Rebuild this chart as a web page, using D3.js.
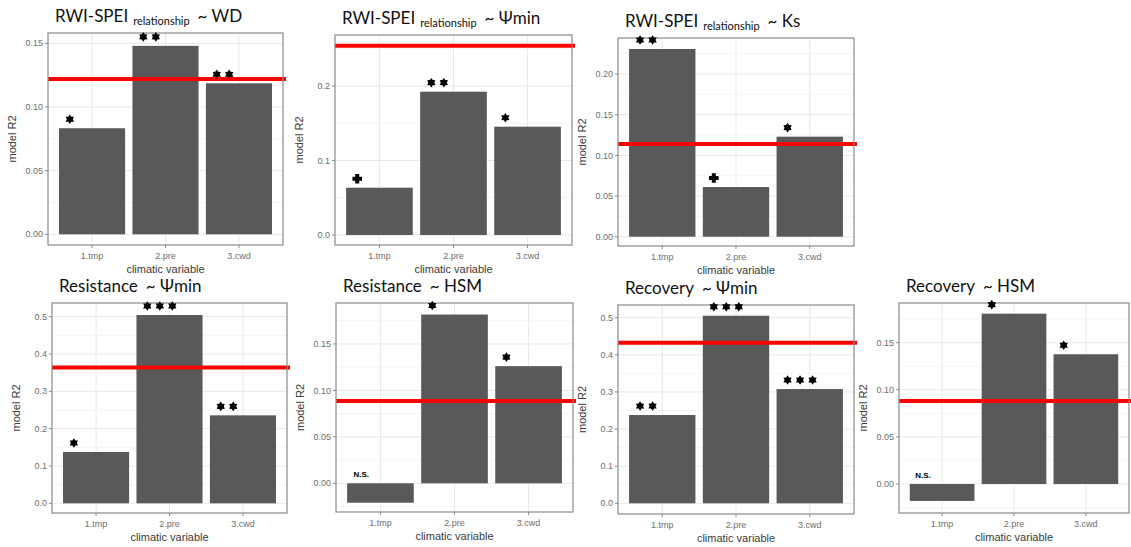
<!DOCTYPE html>
<html>
<head>
<meta charset="utf-8">
<script src="https://cdn.jsdelivr.net/npm/d3@7"></script>
<style>
    body { margin: 0; background: #fff; }
    svg { display: block; }
    .tick-label { font-family: "Liberation Sans", Arial, sans-serif; font-size: 9px; fill: #6e6e6e; }
    .axis-title { font-family: "Liberation Sans", Arial, sans-serif; font-size: 11px; fill: #3a3a3a; }
    .panel-title { font-family: Lato, "Open Sans", sans-serif; font-size: 17px; fill: #111; }
</style>
</head>
<body>
<svg id="chart" width="1131" height="547"></svg>
<script>
// data
var categories = ["1.tmp", "2.pre", "3.cwd"];

var titleMain = ["RWI-SPEI", "RWI-SPEI", "RWI-SPEI", "Resistance", "Resistance", "Recovery", "Recovery"];
var titleSub = ["relationship", "relationship", "relationship", "", "", "", ""];
var titleRest = ["~ WD", "~ \u03A8min", "~ Ks", "~ \u03A8min", "~ HSM", "~ \u03A8min", "~ HSM"];

var r2Values = [
    [0.0833, 0.148, 0.1186],
    [0.0635, 0.1924, 0.1454],
    [0.2308, 0.0611, 0.123],
    [0.1374, 0.5045, 0.2357],
    [-0.0209, 0.1817, 0.1261],
    [0.2378, 0.5053, 0.3078],
    [-0.018, 0.1808, 0.1377]
];

var thresholds = [0.122, 0.254, 0.114, 0.364, 0.0885, 0.4326, 0.0881];

var signif = [
    ["*", "**", "**"],
    ["+", "**", "*"],
    ["**", "+", "*"],
    ["*", "***", "**"],
    ["N.S.", "*", "*"],
    ["**", "***", "***"],
    ["N.S.", "*", "*"]
];

var yTickLabels = [
    ["0.00", "0.05", "0.10", "0.15"],
    ["0.0", "0.1", "0.2"],
    ["0.00", "0.05", "0.10", "0.15", "0.20"],
    ["0.0", "0.1", "0.2", "0.3", "0.4", "0.5"],
    ["0.00", "0.05", "0.10", "0.15"],
    ["0.0", "0.1", "0.2", "0.3", "0.4", "0.5"],
    ["0.00", "0.05", "0.10", "0.15"]
];

var yDomains = [
    [-0.0084, 0.1581],
    [-0.0134, 0.2685],
    [-0.0114, 0.2443],
    [-0.026, 0.5367],
    [-0.0309, 0.1941],
    [-0.0288, 0.5342],
    [-0.0308, 0.1921]
];

// layout: panel rectangles [left, top, right, bottom]
var panelBoxes = [
    [48, 33, 283, 245],
    [335, 35, 572, 245],
    [618, 38, 854, 246],
    [52, 303, 287, 513],
    [336, 303, 573, 512],
    [618, 305, 854, 514],
    [899, 303, 1129, 513]
];

var svg = d3.select("#chart");
svg.append("rect").attr("width", 1131).attr("height", 547).attr("fill", "#fff");

var starR = 4.8,
    starGap = 12.5,
    labelLift = 9;

function starPath(cx, cy, r) {
    var pts = [];
    for (var k = 0; k < 12; k++) {
        var a = -Math.PI / 2 + k * Math.PI / 6,
            rr = k % 2 === 0 ? r : r * 0.62;
        pts.push([cx + rr * Math.cos(a), cy + rr * Math.sin(a)]);
    }
    return "M" + pts.join("L") + "Z";
}

function plusPath(cx, cy, r) {
    var w = r * 0.42;
    return "M" + (cx - w) + "," + (cy - r) + "H" + (cx + w) + "V" + (cy - w) + "H" + (cx + r) +
        "V" + (cy + w) + "H" + (cx + w) + "V" + (cy + r) + "H" + (cx - w) + "V" + (cy + w) +
        "H" + (cx - r) + "V" + (cy - w) + "H" + (cx - w) + "Z";
}

panelBoxes.forEach(function (box, p) {
    var left = box[0], top = box[1], right = box[2], bottom = box[3];

    var x = d3.scaleBand().domain(categories).range([left, right])
        .paddingInner(0.1).paddingOuter(0.15);
    var y = d3.scaleLinear().domain(yDomains[p]).range([bottom, top]);

    var ticks = yTickLabels[p].map(function (t) { return +t; });
    var step = ticks[1] - ticks[0];
    var minor = d3.range(ticks[0] - step / 2, yDomains[p][1], step)
        .filter(function (v) { return v > yDomains[p][0] && v < yDomains[p][1]; });

    var g = svg.append("g").attr("class", "panel");

    // grid
    g.selectAll(".minor").data(minor).enter().append("line")
        .attr("x1", left).attr("x2", right)
        .attr("y1", function (d) { return y(d); }).attr("y2", function (d) { return y(d); })
        .attr("stroke", "#f3f3f3").attr("stroke-width", 0.8);
    g.selectAll(".major-y").data(ticks).enter().append("line")
        .attr("x1", left).attr("x2", right)
        .attr("y1", function (d) { return y(d); }).attr("y2", function (d) { return y(d); })
        .attr("stroke", "#e8e8e8").attr("stroke-width", 1);
    g.selectAll(".major-x").data(categories).enter().append("line")
        .attr("x1", function (d) { return x(d) + x.bandwidth() / 2; })
        .attr("x2", function (d) { return x(d) + x.bandwidth() / 2; })
        .attr("y1", top).attr("y2", bottom)
        .attr("stroke", "#e8e8e8").attr("stroke-width", 1);

    // bars
    g.selectAll(".bar").data(r2Values[p]).enter().append("rect")
        .attr("x", function (d, i) { return x(categories[i]); })
        .attr("width", x.bandwidth())
        .attr("y", function (d) { return y(Math.max(d, 0)); })
        .attr("height", function (d) { return Math.abs(y(d) - y(0)); })
        .attr("fill", "#595959");

    // red reference line
    g.append("line")
        .attr("x1", left).attr("x2", right + 3)
        .attr("y1", y(thresholds[p])).attr("y2", y(thresholds[p]))
        .attr("stroke", "#ff0000").attr("stroke-width", 4);

    // border
    g.append("rect")
        .attr("x", left).attr("y", top)
        .attr("width", right - left).attr("height", bottom - top)
        .attr("fill", "none").attr("stroke", "#8a8a8a").attr("stroke-width", 1.2);

    // y ticks
    ticks.forEach(function (t, i) {
        g.append("line").attr("x1", left - 3).attr("x2", left)
            .attr("y1", y(t)).attr("y2", y(t)).attr("stroke", "#8a8a8a");
        g.append("text").attr("class", "tick-label")
            .attr("x", left - 5).attr("y", y(t)).attr("dy", "0.35em")
            .attr("text-anchor", "end").text(yTickLabels[p][i]);
    });

    // x ticks
    categories.forEach(function (c) {
        var cx = x(c) + x.bandwidth() / 2;
        g.append("line").attr("x1", cx).attr("x2", cx)
            .attr("y1", bottom).attr("y2", bottom + 3).attr("stroke", "#8a8a8a");
        g.append("text").attr("class", "tick-label")
            .attr("x", cx).attr("y", bottom + 14)
            .attr("text-anchor", "middle").text(c);
    });

    // axis titles
    g.append("text").attr("class", "axis-title")
        .attr("x", (left + right) / 2).attr("y", bottom + 28)
        .attr("text-anchor", "middle").text("climatic variable");
    g.append("text").attr("class", "axis-title")
        .attr("transform", "translate(" + (left - 32) + "," + ((top + bottom) / 2) + ") rotate(-90)")
        .attr("text-anchor", "middle").text("model R2");

    // significance marks
    signif[p].forEach(function (s, i) {
        var x0 = x(categories[i]) + x.bandwidth() / 2 - 27,
            cy = y(Math.max(r2Values[p][i], 0)) - labelLift;
        if (s === "N.S.") {
            g.append("text").attr("x", x0).attr("y", cy).attr("dy", "0.35em")
                .style("font-family", "Liberation Sans, Arial, sans-serif")
                .style("font-size", "8px").style("font-weight", "bold")
                .text(s);
        } else if (s === "+") {
            g.append("path").attr("d", plusPath(x0 + starR, cy, starR)).attr("fill", "#000");
        } else {
            d3.range(s.length).forEach(function (k) {
                g.append("path").attr("d", starPath(x0 + starR + k * starGap, cy, starR))
                    .attr("fill", "#000");
            });
        }
    });

    // panel title
    var title = g.append("text").attr("class", "panel-title")
        .attr("x", left + 7).attr("y", top - 11);
    title.append("tspan").text(titleMain[p]);
    if (titleSub[p]) {
        title.append("tspan").attr("dx", 5).attr("dy", 3).style("font-size", "11px").text(titleSub[p]);
        title.append("tspan").attr("dx", 8).attr("dy", -3).text(titleRest[p]);
    } else {
        title.append("tspan").attr("dx", 8).text(titleRest[p]);
    }
});
</script>
</body>
</html>
